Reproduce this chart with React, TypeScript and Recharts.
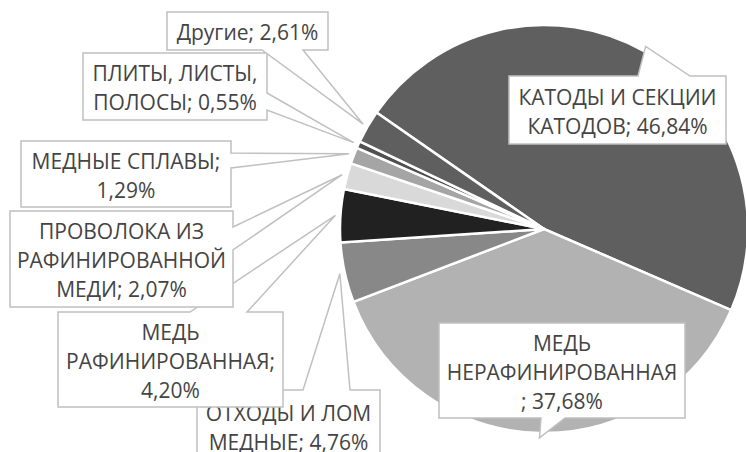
import { PieChart, Pie, Cell } from 'recharts'

// доли экспорта меди, %
const names = [
  'КАТОДЫ И СЕКЦИИ КАТОДОВ',
  'МЕДЬ НЕРАФИНИРОВАННАЯ',
  'ОТХОДЫ И ЛОМ МЕДНЫЕ',
  'МЕДЬ РАФИНИРОВАННАЯ',
  'ПРОВОЛОКА ИЗ РАФИНИРОВАННОЙ МЕДИ',
  'МЕДНЫЕ СПЛАВЫ',
  'ПЛИТЫ, ЛИСТЫ, ПОЛОСЫ',
  'Другие',
]
const shares = [46.84, 37.68, 4.76, 4.2, 2.07, 1.29, 0.55, 2.61]
const fills = ['#5f5f5f', '#b2b2b2', '#888888', '#212121', '#d9d9d9', '#a5a5a5', '#505050', '#5f5f5f']

// where each callout box sits and where its text wraps (chars per line)
type Side = 'top' | 'bottom' | 'left' | 'right'
interface Callout {
  x: number
  y: number
  w: number
  h: number
  side: Side
  b1: number
  b2: number
  wrap: number[]
}
const callouts: Callout[] = [
  { x: 509, y: 76, w: 217, h: 68, side: 'top', b1: 638, b2: 690, wrap: [15] },
  { x: 439, y: 323, w: 246, h: 95, side: 'bottom', b1: 541, b2: 565, wrap: [4, 17] },
  { x: 197, y: 390, w: 183, h: 72, side: 'top', b1: 303, b2: 350, wrap: [12] },
  { x: 58, y: 312, w: 225, h: 95, side: 'top', b1: 190, b2: 247, wrap: [4, 16] },
  { x: 10, y: 211, w: 223, h: 96, side: 'right', b1: 227, b2: 250, wrap: [12, 15] },
  { x: 21, y: 141, w: 210, h: 66, side: 'right', b1: 153, b2: 168, wrap: [14] },
  { x: 83, y: 53, w: 184, h: 67, side: 'right', b1: 93, b2: 110, wrap: [13] },
  { x: 167, y: 12, w: 161, h: 38, side: 'bottom', b1: 262, b2: 303, wrap: [] },
]

const data = names.map((name, i) => ({ name, value: shares[i] }))

const FONT = '"Open Sans", sans-serif'
const RAD = Math.PI / 180

const fmt = (v: number) => v.toFixed(2).replace('.', ',') + '%'

function splitLines(text: string, wrap: number[]) {
  const out: string[] = []
  let pos = 0
  wrap.forEach((n) => {
    out.push(text.slice(pos, pos + n).trim())
    pos += n
  })
  out.push(text.slice(pos).trim())
  return out
}

function calloutPath(c: Callout, tx: number, ty: number) {
  const r = c.x + c.w
  const b = c.y + c.h
  const pts: [number, number][] = [[c.x, c.y]]
  if (c.side === 'top') pts.push([c.b1, c.y], [tx, ty], [c.b2, c.y])
  pts.push([r, c.y])
  if (c.side === 'right') pts.push([r, c.b1], [tx, ty], [r, c.b2])
  pts.push([r, b])
  if (c.side === 'bottom') pts.push([c.b2, b], [tx, ty], [c.b1, b])
  pts.push([c.x, b])
  if (c.side === 'left') pts.push([c.x, c.b2], [tx, ty], [c.x, c.b1])
  return 'M' + pts.map((p) => p.join(',')).join('L') + 'Z'
}

const renderCallout = (props: any) => {
  const { cx, cy, midAngle, outerRadius, index } = props
  const c = callouts[index]
  const tx = cx + (outerRadius + 5) * Math.cos(-midAngle * RAD)
  const ty = cy + (outerRadius + 5) * Math.sin(-midAngle * RAD)
  const lines = splitLines(`${names[index]}; ${fmt(shares[index])}`, c.wrap)
  const lh = 29
  const mx = c.x + c.w / 2
  const my = c.y + c.h / 2 + 1
  return (
    <g key={`callout-${index}`}>
      <path d={calloutPath(c, tx, ty)} fill="#fff" stroke="#c0c0c0" strokeWidth={1.5} />
      <text x={mx} textAnchor="middle" fontFamily={FONT} fontSize={21} fill="#444">
        {lines.map((l, i) => (
          <tspan key={i} x={mx} y={my + (i - (lines.length - 1) / 2) * lh} dominantBaseline="central">
            {l}
          </tspan>
        ))}
      </text>
    </g>
  )
}

export default function App() {
  return (
    <div style={{ position: 'absolute', left: 0, top: 0, width: 746, height: 452, background: '#fff' }}>
      <PieChart width={746} height={452} margin={{ top: 0, right: 0, bottom: 0, left: 0 }}>
        <Pie
          data={data}
          dataKey="value"
          nameKey="name"
          cx={544}
          cy={229}
          outerRadius={204}
          startAngle={145.2}
          endAngle={-214.8}
          stroke="#fff"
          strokeWidth={2.5}
          label={renderCallout}
          labelLine={false}
          isAnimationActive={false}
        >
          {data.map((d, i) => (
            <Cell key={d.name} fill={fills[i]} />
          ))}
        </Pie>
      </PieChart>
    </div>
  )
}
